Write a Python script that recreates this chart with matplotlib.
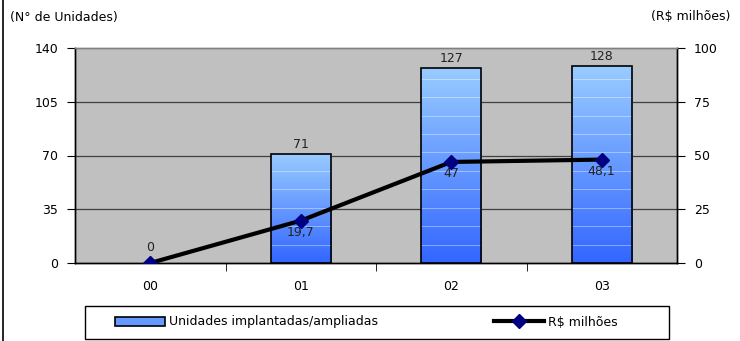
import matplotlib.pyplot as plt
import numpy as np
from matplotlib.lines import Line2D
from matplotlib.patches import Patch, Rectangle

anos = ['00', '01', '02', '03']
unidades = [0, 71, 127, 128]
milhoes = [0, 19.7, 47, 48.1]
rotulos_milhoes = ['', '19,7', '47', '48,1']

fig = plt.figure(figsize=(7.4, 3.41), dpi=100)
ax = fig.add_axes([75/740, 1 - 263/341, (677-75)/740, (263-48)/341])
ax2 = ax.twinx()

ax.set_facecolor('#c0c0c0')
ax.set_xlim(-0.5, 3.5)
ax.set_ylim(0, 140)
ax2.set_ylim(0, 100)
ax.set_yticks([0, 35, 70, 105, 140])
ax2.set_yticks([0, 25, 50, 75, 100])
for y in [35, 70, 105]:
    ax.axhline(y, color='#404040', lw=0.9, zorder=1)

x = np.arange(len(anos))
w = 0.4
grad = np.linspace(0, 1, 256).reshape(-1, 1)
cmap = plt.matplotlib.colors.LinearSegmentedColormap.from_list('b', ['#3366ff', '#99ccff'])
bars = ax.bar(x, unidades, width=w, facecolor='none', edgecolor='black', lw=1.2, zorder=4)
for b, v in zip(bars, unidades):
    if v == 0:
        b.set_edgecolor('none')
        ax.text(b.get_x() + w/2, 6, '0', ha='center', va='bottom', fontsize=9, color='#222222')
        continue
    x0 = b.get_x()
    im = ax.imshow(grad, cmap=cmap, aspect='auto', origin='lower',
                   extent=[x0, x0 + w, 0, v], zorder=3)
    im.set_clip_path(b)
    for yy in np.arange(12, v - 3, 12):
        ax.plot([x0, x0 + w], [yy, yy], color='white', lw=0.6, alpha=0.45, zorder=3)
    ax.text(b.get_x() + w/2, v + 2, str(v), ha='center', va='bottom', fontsize=9, color='#222222')
ax.set_aspect('auto')
ax.set_xlim(-0.5, 3.5)
ax.set_ylim(0, 140)

ax2.plot(x, milhoes, color='black', lw=3, marker='D', markersize=7,
         markerfacecolor='#000080', markeredgecolor='#000080', zorder=5)
for xi, v, t in zip(x, milhoes, rotulos_milhoes):
    ax2.text(xi, v - 2.5, t, ha='center', va='top', fontsize=9, color='#222222')

ax.set_xticks(x)
ax.set_xticklabels(anos, fontsize=9)
ax.set_xticks([0.5, 1.5, 2.5], minor=True)
ax.tick_params(axis='x', which='major', length=0, pad=12)
ax.tick_params(axis='x', which='minor', length=6, direction='out')
ax.tick_params(axis='y', labelsize=9, length=6, direction='out', pad=6)
ax2.tick_params(axis='y', labelsize=9, length=6, direction='out', pad=6)
for a in (ax, ax2):
    for s in a.spines.values():
        s.set_color('black')
        s.set_linewidth(1)
ax.spines['top'].set_color('#808080')
ax2.spines['top'].set_color('#808080')
ax.set_zorder(1)
ax2.set_zorder(2)
ax2.patch.set_visible(False)

fig.text(10/740, 1 - 17/341, '(N° de Unidades)', fontsize=9, va='center', ha='left')
fig.text(730/740, 1 - 17/341, '(R$ milhões)', fontsize=9, va='center', ha='right')

# caixa da legenda
fig.add_artist(Rectangle((85/740, 1 - 339/341), (669-85)/740, 33/341, transform=fig.transFigure,
                         facecolor='white', edgecolor='black', lw=1))
handles = [Patch(facecolor='#6699ff', edgecolor='black', lw=1.2),
           Line2D([], [], color='black', lw=3, marker='D', markersize=7,
                  markerfacecolor='#000080', markeredgecolor='#000080')]
leg = fig.legend(handles, ['Unidades implantadas/ampliadas', 'R$ milhões'],
                 loc='center left', bbox_to_anchor=(115/740, 1 - 322/341),
                 ncol=2, fontsize=9, frameon=False, borderpad=0, borderaxespad=0,
                 handlelength=4, handletextpad=0.3, columnspacing=9.3)

fig.add_artist(Line2D([3/740, 3/740], [0, 1], color='black', lw=1.2, transform=fig.transFigure))

fig.savefig('out.png', dpi=100)
